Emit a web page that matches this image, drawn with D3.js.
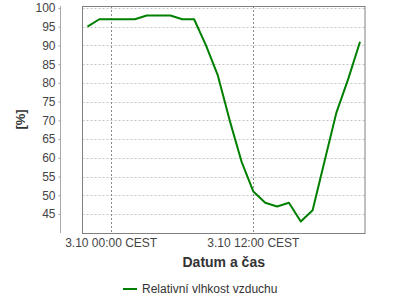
<!DOCTYPE html>
<html>
<head>
<meta charset="utf-8">
<script src="https://cdn.jsdelivr.net/npm/d3@7"></script>
<style>
  body { margin: 0; background: #fff; }
  text { font-family: "Liberation Sans", Arial, sans-serif; }
</style>
</head>
<body>
<script>
// hours relative to 3.10 00:00 CEST
var hours = [-2, -1, 0, 1, 2, 3, 4, 5, 6, 7, 8, 9, 10, 11, 12, 13, 14, 15, 16, 17, 18, 19, 20, 21];
var humidity = [95, 97, 97, 97, 97, 98, 98, 98, 97, 97, 90, 82, 70, 59, 51, 48, 47, 48, 43, 46, 59, 72, 81, 91];
var xTicks = [0, 12];
var xTickLabels = ["3.10 00:00 CEST", "3.10 12:00 CEST"];
var yTicks = [45, 50, 55, 60, 65, 70, 75, 80, 85, 90, 95, 100];
var seriesName = "Relativní vlhkost vzduchu";

var w = 400, h = 300;
var pLeft = 82.5, pRight = 365, pTop = 6, pBottom = 233;

var svg = d3.select("body").append("svg").attr("width", w).attr("height", h);

var x = d3.scaleLinear().domain([-2.42, 21.42]).range([pLeft, pRight]);
var y = d3.scaleLinear().domain([39.93, 100.53]).range([pBottom, pTop]);

// horizontal grid
svg.append("g")
  .selectAll("line")
  .data(yTicks)
  .enter()
  .append("line")
  .attr("x1", pLeft)
  .attr("x2", pRight)
  .attr("y1", function (d) { return Math.round(y(d)) + 0.5; })
  .attr("y2", function (d) { return Math.round(y(d)) + 0.5; })
  .style("stroke", "#c4c4c4")
  .style("stroke-dasharray", "2,2");

// vertical grid
svg.append("g")
  .selectAll("line")
  .data(xTicks)
  .enter()
  .append("line")
  .attr("x1", function (d) { return Math.round(x(d)) + 0.5; })
  .attr("x2", function (d) { return Math.round(x(d)) + 0.5; })
  .attr("y1", pTop)
  .attr("y2", pBottom)
  .style("stroke", "#8a8a8a")
  .style("stroke-dasharray", "2,2");

// plot border
svg.append("rect")
  .attr("x", pLeft)
  .attr("y", pTop + 0.5)
  .attr("width", pRight - pLeft)
  .attr("height", pBottom - pTop)
  .style("fill", "none")
  .style("stroke", "#808080");

// y axis (offset to the left)
var yAxis = svg.append("g")
  .attr("transform", "translate(60.5,0)")
  .call(d3.axisLeft(y).tickValues(yTicks).tickSize(2).tickPadding(3));
yAxis.select(".domain").style("stroke", "#aaa").attr("d", "M0," + pTop + "V" + pBottom);
yAxis.selectAll(".tick line").style("stroke", "#aaa");
yAxis.selectAll("text")
  .style("font-size", "12px")
  .style("fill", "#444")
  .style("font-family", "'Liberation Sans', Arial, sans-serif");

// x tick labels
svg.append("g")
  .selectAll("text")
  .data(xTicks)
  .enter()
  .append("text")
  .attr("x", function (d) { return x(d); })
  .attr("y", 247)
  .attr("text-anchor", "middle")
  .style("font-size", "12px")
  .style("fill", "#444")
  .text(function (d, i) { return xTickLabels[i]; });

// axis titles
svg.append("text")
  .attr("x", (pLeft + pRight) / 2)
  .attr("y", 267)
  .attr("text-anchor", "middle")
  .style("font-size", "14px")
  .style("font-weight", "bold")
  .style("fill", "#333")
  .text("Datum a čas");

svg.append("text")
  .attr("transform", "translate(25," + (pTop + pBottom) / 2 + ") rotate(-90)")
  .attr("text-anchor", "middle")
  .style("font-size", "13px")
  .style("font-weight", "bold")
  .style("fill", "#333")
  .text("[%]");

// data line
var line = d3.line()
  .x(function (d, i) { return x(hours[i]); })
  .y(function (d) { return y(d); });

svg.append("path")
  .datum(humidity)
  .attr("d", line)
  .style("fill", "none")
  .style("stroke", "#008000")
  .style("stroke-width", 2)
  .style("stroke-linejoin", "round");

// legend
var legend = svg.append("g");
legend.append("line")
  .attr("x1", 123)
  .attr("x2", 137)
  .attr("y1", 289)
  .attr("y2", 289)
  .style("stroke", "#008000")
  .style("stroke-width", 2);
legend.append("text")
  .attr("x", 142)
  .attr("y", 293)
  .style("font-size", "12px")
  .style("fill", "#333")
  .text(seriesName);
</script>
</body>
</html>
